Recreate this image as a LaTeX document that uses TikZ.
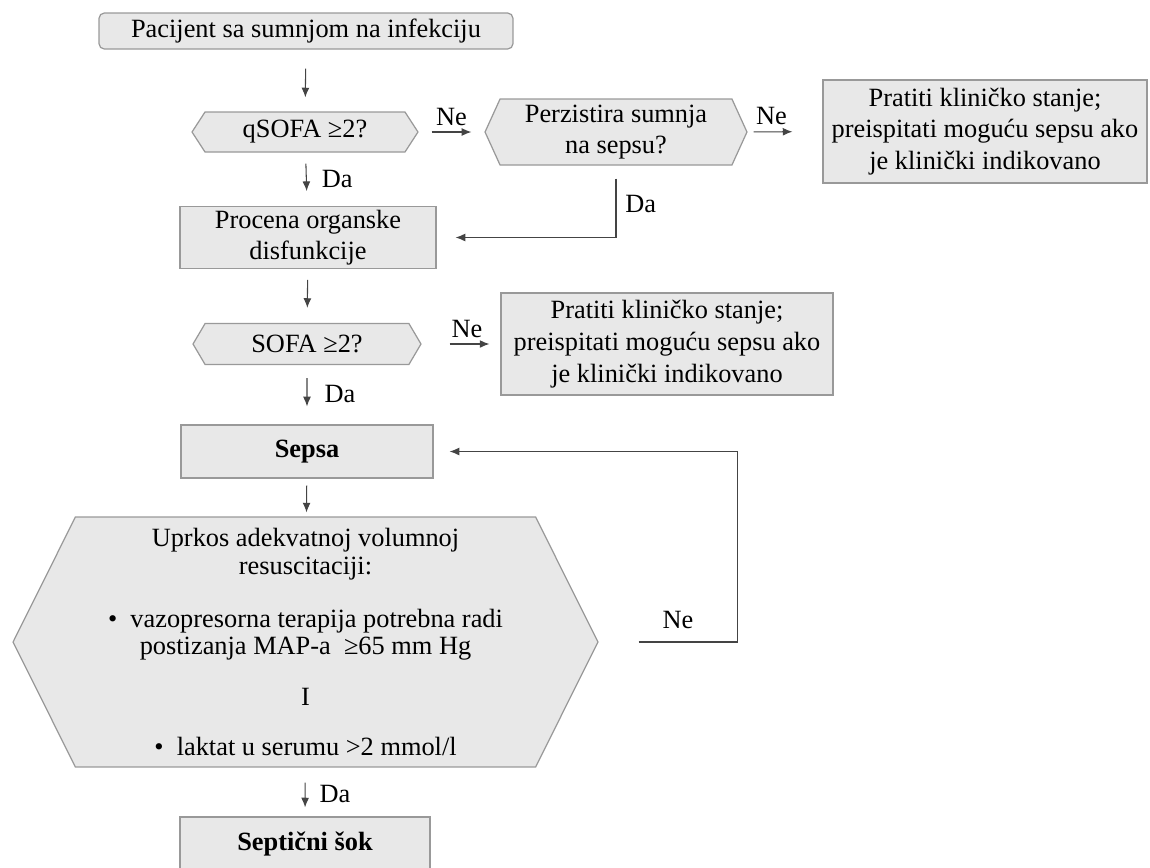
\documentclass[tikz,border=0pt]{standalone}
\usepackage{fontspec}
\setmainfont{Liberation Serif}
\usetikzlibrary{arrows.meta,shapes.symbols}
\definecolor{boxfill}{HTML}{E8E8E8}
\definecolor{boxline}{HTML}{999999}
\definecolor{arrline}{HTML}{444444}
\tikzset{
  box/.style={draw=boxline,fill=boxfill,line width=.7pt,align=center,inner sep=2pt},
  hexa/.style={box,signal,signal to=east and west},
  arr/.style={->,draw=arrline,line width=.6pt},
  lbl/.style={inner sep=1pt}
}
\begin{document}
\begin{tikzpicture}[>={Latex[length=5.5pt,width=4.5pt]},x=.02cm,y=-.02cm,font=\fontsize{15}{17.5}\selectfont]
\useasboundingbox(0,0)rectangle(1150,867);
\node[box,rounded corners=3pt,minimum width=8.28cm,minimum height=.72cm](start)at(306,31){Pacijent sa sumnjom na infekciju};
\node[hexa,signal pointer angle=114,minimum width=4.52cm,minimum height=.8cm](qsofa)at(305,132){qSOFA ≥2?};
\node[hexa,signal pointer angle=131,minimum width=5.24cm,minimum height=1.32cm](persist)at(616,132){Perzistira sumnja\\na sepsu?};
\node[box,minimum width=6.48cm,minimum height=2.06cm](pratiti1)at(985,131.5){Pratiti kliničko stanje;\\[.5pt]preispitati moguću sepsu ako\\[.5pt]je klinički indikovano};
\node[box,minimum width=5.12cm,minimum height=1.18cm](procena)at(308,237.5){Procena organske\\disfunkcije};
\node[hexa,signal pointer angle=119,minimum width=4.56cm,minimum height=.82cm](sofa)at(307,344){SOFA ≥2?};
\node[box,minimum width=6.64cm,minimum height=2.04cm](pratiti2)at(667,344){Pratiti kliničko stanje;\\[.5pt]preispitati moguću sepsu ako\\[.5pt]je klinički indikovano};
\node[box,minimum width=5.04cm,minimum height=1.06cm,font=\fontsize{15}{17.5}\selectfont\bfseries](sepsa)at(307,451.5){Sepsa};
\node[hexa,signal pointer angle=127,minimum width=11.7cm,minimum height=5cm,font=\fontsize{15}{15.5}\selectfont](sok)at(305.5,642){Uprkos adekvatnoj volumnoj\\resuscitaciji:\\[14.8pt]•\ \ vazopresorna terapija potrebna radi\\postizanja MAP-a\ \ ≥65 mm Hg\\[13.7pt]I\\[12.5pt]•\ \ laktat u serumu >2 mmol/l};
\node[box,minimum width=5cm,minimum height=1.06cm,font=\fontsize{15}{17.5}\selectfont\bfseries](septicni)at(305,843.5){Septični šok};

\draw[arr,shorten <=.38cm,shorten >=.28cm](start)--(qsofa);
\draw[arr,shorten <=.22cm,shorten >=.3cm](qsofa)--node[lbl,right=7.5pt](da1){Da}(procena);
\draw[arr,shorten <=.26cm,shorten >=.26cm](qsofa.east)--node[lbl,above=2.5pt](ne1){Ne}(persist.west);
\draw[arr,shorten <=.12cm,shorten >=.6cm](persist.east)--node[lbl,pos=.32,above=2.5pt](ne2){Ne}(pratiti1.west);
\draw[arr,shorten <=.26cm,shorten >=.38cm](persist.south)|-node[lbl,pos=.27,right=4pt](da2){Da}(procena.east);
\draw[arr,shorten <=.22cm,shorten >=.3cm](procena)--(sofa);
\draw[arr,shorten <=.56cm,shorten >=.22cm](sofa.east)--node[lbl,pos=.575,above=2.5pt](ne3){Ne}(pratiti2.west);
\draw[arr,shorten <=.26cm,shorten >=.36cm](sofa)--node[lbl,pos=.48,right=8.7pt](da3){Da}(sepsa);
\draw[arr,shorten <=.14cm,shorten >=.08cm](sepsa)--(sok);
\draw[arr,shorten <=.8cm,shorten >=.32cm](sok.east)--node[lbl,pos=.57,above=6pt](ne4){Ne}++(139,0)|-(sepsa.east);
\draw[arr,shorten <=.3cm,shorten >=.18cm](sok)--node[lbl,pos=.54,right=7pt](da4){Da}(septicni);

\end{tikzpicture}
\end{document}
